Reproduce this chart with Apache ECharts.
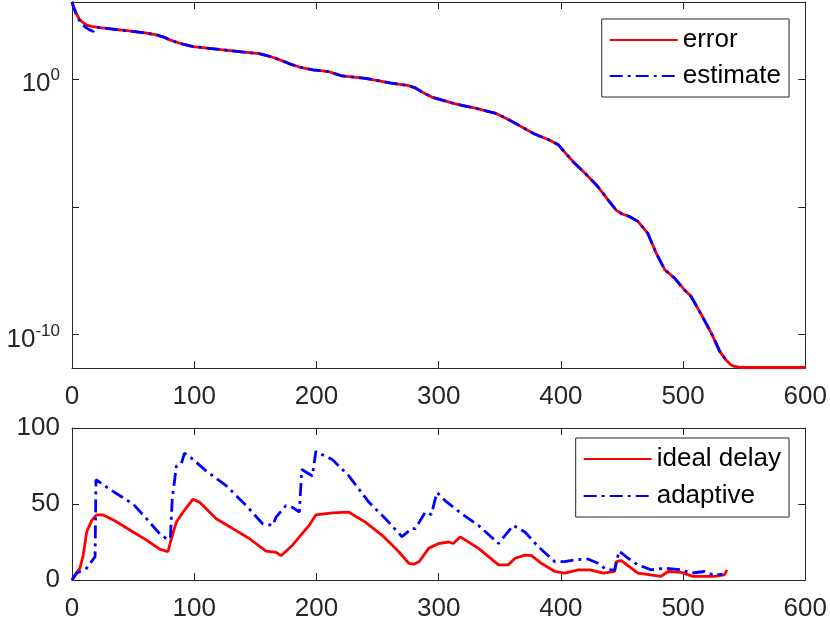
<!DOCTYPE html>
<html>
<head>
<meta charset="utf-8">
<script src="https://cdn.jsdelivr.net/npm/echarts@6/dist/echarts.min.js"></script>
<style>
  html, body { margin: 0; padding: 0; background: #fff; }
  #main { width: 830px; height: 622px; }
</style>
</head>
<body>
<div id="main"></div>
<script>
// 上图: 误差 / 估计 (log10 指数读数)
var errX = [0, 2, 4, 6.5, 9, 12, 16, 23, 35, 45, 60, 69, 75, 80, 90, 99, 118, 135, 153, 163, 170, 180, 186, 197, 210, 221, 240, 260, 275.5, 281, 288, 294.6, 305, 313.6, 330, 346, 355, 365, 378, 390, 398, 405, 411, 419.6, 430, 438.6, 445, 449.5, 456, 463, 471, 478, 485, 493, 501, 506.5, 515, 523, 530, 535, 539, 542, 546, 550, 600];
var errLog = [3.0, 2.72, 2.5, 2.3, 2.2, 2.1, 2.05, 2.0, 1.93, 1.88, 1.79, 1.72, 1.63, 1.52, 1.36, 1.26, 1.16, 1.07, 0.98, 0.86, 0.74, 0.55, 0.46, 0.35, 0.28, 0.11, 0.02, -0.16, -0.27, -0.36, -0.56, -0.72, -0.86, -0.98, -1.15, -1.34, -1.54, -1.80, -2.15, -2.38, -2.58, -2.97, -3.29, -3.68, -4.2, -4.73, -5.12, -5.27, -5.38, -5.57, -6.03, -6.81, -7.46, -7.79, -8.24, -8.5, -9.22, -9.93, -10.65, -10.98, -11.17, -11.24, -11.27, -11.28, -11.28];
var estX = [0, 1.1, 4, 6.5, 9, 12, 15, 17.4, 19, 20, 23, 35, 45, 60, 69, 75, 80, 90, 99, 118, 135, 153, 163, 170, 180, 186, 197, 210, 221, 240, 260, 275.5, 281, 288, 294.6, 305, 313.6, 330, 346, 355, 365, 378, 390, 398, 405, 411, 419.6, 430, 438.6, 445, 449.5, 456, 463, 471, 478, 485, 493, 501, 506.5, 515, 523, 530, 535];
var estLog = [3.0, 2.82, 2.45, 2.24, 2.1, 1.98, 1.9, 1.85, 1.84, 2.02, 2.0, 1.93, 1.88, 1.79, 1.72, 1.63, 1.52, 1.36, 1.26, 1.16, 1.07, 0.98, 0.86, 0.74, 0.55, 0.46, 0.35, 0.28, 0.11, 0.02, -0.16, -0.27, -0.36, -0.56, -0.72, -0.86, -0.98, -1.15, -1.34, -1.54, -1.80, -2.15, -2.38, -2.58, -2.97, -3.29, -3.68, -4.2, -4.73, -5.12, -5.27, -5.38, -5.57, -6.03, -6.81, -7.46, -7.79, -8.24, -8.5, -9.22, -9.93, -10.65, -10.98];

// 下图: 延迟
var delayX = [0, 3, 6.5, 9.2, 12, 16, 20, 25.5, 35, 50, 61, 71.7, 78.5, 81.3, 85.4, 90.8, 99, 104.4, 118, 131.6, 145, 158.7, 167, 171, 180.4, 194, 199.5, 213, 226.6, 240, 253.8, 267.4, 275.6, 279.6, 284, 291.8, 300, 308, 312, 317.7, 332.6, 349, 357, 362.5, 370.6, 376, 384, 395, 403, 414.4, 424, 434.6, 444, 445.4, 449.5, 463, 482, 487.6, 498.6, 508, 525.5, 533.7, 536];
var delayY = [0, 4, 7.8, 16.4, 31.6, 39, 42.8, 42.8, 39, 31.6, 26.2, 20.3, 18.6, 27.3, 38.1, 44.6, 53.2, 51.1, 40.3, 33.8, 27.3, 19, 18.2, 16, 22.9, 35.9, 42.8, 44.2, 44.6, 38.1, 29.4, 18.6, 11, 10.4, 12, 20.8, 24, 25, 24, 28.4, 20.8, 10, 10, 14.3, 16.4, 16, 11, 5.6, 4.5, 6.7, 6.7, 4.5, 5.6, 12.1, 12.8, 4.5, 2.4, 5.6, 5, 2.4, 2.4, 3.4, 6.7];
var adaptX = [0, 3.8, 12, 18.9, 19.6, 25, 31, 35, 50, 61, 71.7, 77, 80.5, 82, 85.4, 89.5, 92, 97.5, 110, 126.4, 142.6, 156, 164.3, 167, 175, 180.4, 186, 188, 196.7, 199.5, 213, 226.6, 243, 256.5, 270, 278, 281, 289, 294, 298.6, 305.4, 319, 332.6, 349, 361, 370.6, 381.5, 395, 403, 411, 422, 430.5, 437.3, 444, 447.6, 455, 463, 474, 485, 498.6, 506.5, 517.4, 525.5, 532.3];
var adaptY = [0, 4.5, 7.8, 15.4, 66, 63, 59.7, 57.6, 50, 40.3, 30.5, 27.3, 27.3, 53.2, 74.9, 76.6, 83.5, 80.3, 71.6, 61.9, 48.9, 37, 35.9, 41.4, 48.9, 47.8, 44.6, 72.7, 68.4, 84.6, 79.2, 68.4, 51.1, 40.3, 28.5, 33.8, 33.8, 44.6, 43, 57.6, 52.1, 43.5, 35.9, 24, 35.9, 31.6, 21.9, 12.1, 12.1, 13.2, 13.8, 11, 6.7, 6.7, 19, 14.3, 10, 6.7, 7.8, 6.7, 4.5, 5.6, 3, 3.9];

var xTicks = [0, 100, 200, 300, 400, 500, 600];
var errTicks = [-10, -5, 0];      // 10^-10, 10^-5, 10^0
var errLabels = [-10, 0];
var delayTicks = [0, 50, 100];

function pairs(xs, ys) {
    return xs.map(function (x, i) { return [x, ys[i]]; });
}

var FONT = 'Liberation Sans, Arial, sans-serif';
var AX = '#262626';
var LW = 2.8;
var dashDot = [13, 5, 3, 5];

function xAx(grid, pos, labels) {
    return {
        type: 'value', gridIndex: grid, position: pos,
        min: xTicks[0], max: xTicks[xTicks.length - 1], interval: 100,
        axisLine: { show: true, onZero: false, lineStyle: { color: AX, width: 1 } },
        axisTick: { show: true, inside: true, length: 7, lineStyle: { color: AX } },
        axisLabel: { show: labels, margin: 16, fontSize: 26, color: AX, fontFamily: FONT },
        splitLine: { show: false }
    };
}

function errY(pos, labels) {
    return {
        type: 'value', gridIndex: 0, position: pos,
        min: -11.3, max: 3,
        axisLine: { show: true, onZero: false, lineStyle: { color: AX } },
        axisTick: { show: true, inside: true, length: 7, customValues: errTicks, lineStyle: { color: AX } },
        axisLabel: {
            show: labels, margin: 12, customValues: errLabels,
            formatter: function (v) { return '{b|10}{s|' + v + '}'; },
            rich: {
                b: { fontSize: 26, color: AX, fontFamily: FONT, padding: [10, 0, 0, 0] },
                s: { fontSize: 17, color: AX, fontFamily: FONT, padding: [0, 0, 6, 0] }
            }
        },
        splitLine: { show: false }
    };
}

function delayAx(pos, labels) {
    return {
        type: 'value', gridIndex: 1, position: pos,
        min: delayTicks[0], max: delayTicks[2], interval: 50,
        axisLine: { show: true, onZero: false, lineStyle: { color: AX } },
        axisTick: { show: true, inside: true, length: 7, lineStyle: { color: AX } },
        axisLabel: { show: labels, margin: 12, fontSize: 26, color: AX, fontFamily: FONT },
        splitLine: { show: false }
    };
}

function legendBox(names, top, gap) {
    return {
        data: names, orient: 'vertical', right: 41, top: top,
        itemWidth: 68, itemHeight: 14, itemGap: gap, padding: [8, 8, 8, 7],
        borderColor: AX, borderWidth: 1, backgroundColor: '#fff',
        itemStyle: { opacity: 0 },
        textStyle: { fontSize: 26, lineHeight: 26, color: '#000', fontFamily: FONT }
    };
}

var myChart = echarts.init(document.getElementById('main'));
var option = {
    animation: false,
    backgroundColor: '#fff',
    grid: [
        { left: 72, right: 22, top: 2, height: 366 },
        { left: 72, right: 22, top: 428, height: 154 }
    ],
    xAxis: [xAx(0, 'bottom', true), xAx(0, 'top', false), xAx(1, 'bottom', true), xAx(1, 'top', false)],
    yAxis: [errY('left', true), errY('right', false), delayAx('left', true), delayAx('right', false)],
    legend: [
        legendBox(['error', 'estimate'], 19, 10),
        legendBox(['ideal delay', 'adaptive'], 438, 11)
    ],
    series: [
        {
            name: 'error', type: 'line', xAxisIndex: 0, yAxisIndex: 0, symbol: 'none',
            data: pairs(errX, errLog),
            lineStyle: { color: '#ff0000', width: LW }, itemStyle: { color: '#ff0000' }
        },
        {
            name: 'estimate', type: 'line', xAxisIndex: 0, yAxisIndex: 0, symbol: 'none',
            data: pairs(estX, estLog),
            lineStyle: { color: '#0000ff', width: LW, type: dashDot }, itemStyle: { color: '#0000ff' }
        },
        {
            name: 'ideal delay', type: 'line', xAxisIndex: 2, yAxisIndex: 2, symbol: 'none',
            data: pairs(delayX, delayY),
            lineStyle: { color: '#ff0000', width: LW }, itemStyle: { color: '#ff0000' }
        },
        {
            name: 'adaptive', type: 'line', xAxisIndex: 2, yAxisIndex: 2, symbol: 'none',
            data: pairs(adaptX, adaptY),
            lineStyle: { color: '#0000ff', width: LW, type: dashDot }, itemStyle: { color: '#0000ff' }
        }
    ]
};
myChart.setOption(option);
</script>
</body>
</html>
